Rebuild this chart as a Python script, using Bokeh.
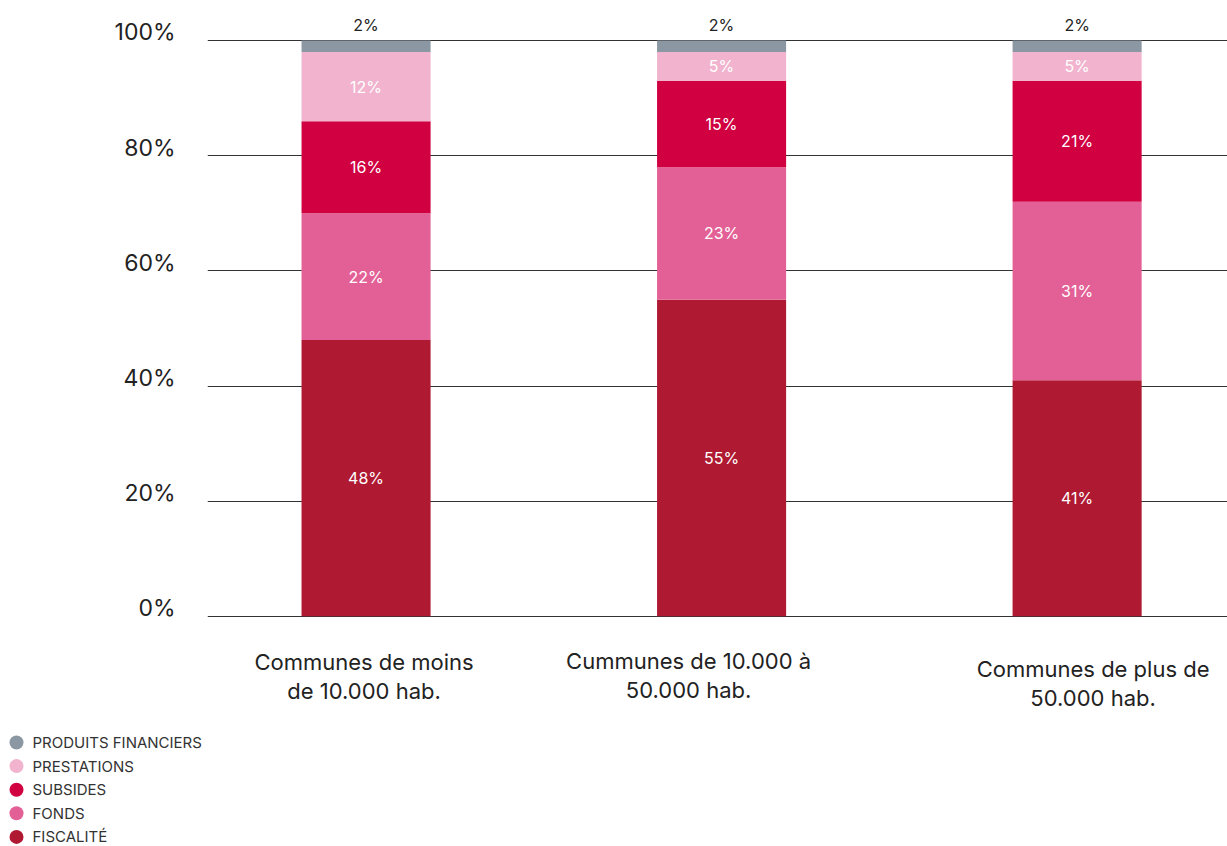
from bokeh.plotting import figure
from bokeh.layouts import column
from bokeh.models import ColumnDataSource, FixedTicker, Range1d, LinearAxis
from bokeh.core.properties import value
from bokeh.embed import file_html
from bokeh.resources import INLINE

# ---- data ----
categories = ["Communes de moins\nde 10.000 hab.",
              "Cummunes de 10.000 à\n50.000 hab.",
              "Communes de plus de\n50.000 hab."]
series = ["FISCALITÉ", "FONDS", "SUBSIDES", "PRESTATIONS", "PRODUITS FINANCIERS"]
fiscalite = [48, 55, 41]
fonds = [22, 23, 31]
subsides = [16, 15, 21]
prestations = [12, 5, 5]
produits_financiers = [2, 2, 2]
y_ticks = [0, 20, 40, 60, 80, 100]

colors = ["#AF1931", "#E36096", "#D00041", "#F1B3CE", "#8B98A3"]
FONT = "Inter"

values = [fiscalite, fonds, subsides, prestations, produits_financiers]
xs = list(range(len(categories)))

data = {"x": xs}
keys = ["s%d" % i for i in range(len(series))]
for k, v in zip(keys, values):
    data[k] = v
src = ColumnDataSource(data)

MAIN_H = 726
Y0, Y1 = -19.13, 105.22
SHIFT = 1.4
p = figure(width=1227, height=MAIN_H, output_backend="svg", toolbar_location=None,
           x_range=Range1d(-0.446, 2.423), y_range=Range1d(Y0, Y1),
           x_axis_location=None, y_axis_location=None,
           min_border_left=207, min_border_right=0, min_border_top=10, min_border_bottom=0)
p.extra_y_ranges = {"lab": Range1d(Y0 - SHIFT, Y1 - SHIFT)}
p.outline_line_color = None
p.background_fill_color = "white"
p.border_fill_color = "white"

p.vbar_stack(keys, x="x", width=0.363, source=src, color=colors, line_color=None)

# segment labels
lab_x, lab_y, lab_t = [], [], []
top_x, top_y, top_t = [], [], []
for j in xs:
    cum = 0
    for i, v in enumerate(values):
        if i == len(values) - 1:
            top_x.append(j); top_y.append(cum + v[j]); top_t.append("%d%%" % v[j])
        else:
            lab_x.append(j); lab_y.append(cum + v[j] / 2); lab_t.append("%d%%" % v[j])
        cum += v[j]

p.text(x=lab_x, y=lab_y, text=lab_t, text_color="white", text_font=value(FONT),
       text_font_size="16px", text_align="center", text_baseline="middle")
p.text(x=top_x, y=top_y, text=top_t, text_color="#222222", text_font=value(FONT),
       text_font_size="16px", text_align="center", text_baseline="middle", y_offset=-16)

# category labels
p.text(x=xs, y=[0] * len(xs), text=categories, text_color="#222222", text_font=value(FONT),
       text_font_size="22px", text_align="center", text_baseline="middle",
       x_offset=[-2, -33, 16], y_offset=[60, 59, 67], text_line_height=1.1)

# y axis
yax = LinearAxis(y_range_name="lab", ticker=FixedTicker(ticks=y_ticks))
yax.major_label_overrides = {t: "%d%%" % t for t in y_ticks}
yax.axis_line_color = None
yax.major_tick_line_color = None
yax.minor_tick_line_color = None
yax.major_tick_in = 0
yax.major_tick_out = 0
yax.major_label_standoff = 32
yax.major_label_text_font = FONT
yax.major_label_text_font_size = "23px"
yax.major_label_text_color = "#222222"
p.add_layout(yax, "left")

p.ygrid.ticker = FixedTicker(ticks=y_ticks)
p.ygrid.grid_line_color = "#333333"
p.ygrid.grid_line_width = 1
p.ygrid.level = "underlay"
p.xgrid.visible = False

# legend figure (circles + labels)
LG_H = 846 - MAIN_H
lg = figure(width=1227, height=LG_H, output_backend="svg", toolbar_location=None,
            x_range=Range1d(0, 1227), y_range=Range1d(LG_H, 0),
            x_axis_location=None, y_axis_location=None,
            min_border_left=0, min_border_right=0, min_border_top=0, min_border_bottom=0)
if "frame_align" in lg.properties():
    lg.frame_align = False
lg.outline_line_color = None
lg.grid.visible = False

leg_names = list(reversed(series))
leg_colors = list(reversed(colors))
row_y = [16 + 23.6 * i for i in range(len(leg_names))]
lg.scatter(x=[16] * len(leg_names), y=row_y, marker="circle", size=14, color=leg_colors, line_color=None)
lg.text(x=[32] * len(leg_names), y=row_y, text=leg_names, text_color="#333333",
        text_font=value(FONT), text_font_size="15px", text_align="left", text_baseline="middle")

layout = column(p, lg, spacing=0)
open("out.html", "w").write(file_html(layout, INLINE))
